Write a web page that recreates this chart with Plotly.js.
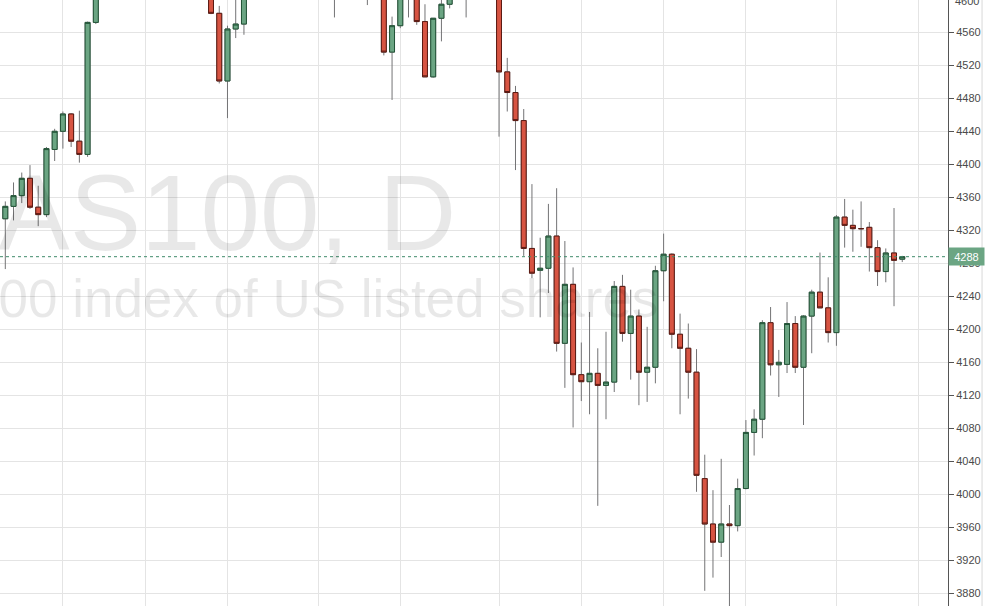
<!DOCTYPE html>
<html>
<head>
<meta charset="utf-8">
<script src="https://cdn.plot.ly/plotly-3.0.1.min.js"></script>
<style>
html,body{margin:0;padding:0;background:#fff;}
#chart{width:985px;height:606px;}
</style>
</head>
<body>
<div id="chart"></div>
<script>
// Candle positions (trading-day index); candles fully above the visible range are not listed
const dayIndex = [0,1,2,3,4,5,6,7,8,9,10,11,
  25,26,27,28,29,
  40,44,46,47,48,49,50,51,52,53,54,56,
  60,61,62,63,64,65,66,67,68,69,
  70,71,72,73,74,75,76,77,78,79,
  80,81,82,83,84,85,86,87,88,89,
  90,91,92,93,94,95,96,97,98,99,
  100,101,102,103,104,105,106,107,108,109];

const openVals = [4334,4349,4362,4383,4348,4339,4418,4440,4461,4428,4412,4572,
  4625,4583,4501,4564,4570,
  4640,4650,4640,4536,4568,4630,4620,4573,4506,4577,4594,4640,
  4620,4512,4487,4453,4298,4271.5,4274,4313,4183,4254.5,
  4145,4136.5,4146.6,4132,4136,4252,4195,4216,4148,4154,
  4271,4291,4194,4177,4148,4019,3964,3942,3964,3962,
  4007,4075,4091,4208,4157,4157.5,4207,4154,4216,4245,
  4226,4196,4336,4326,4322,4323.6,4299,4270,4292.5,4285];

const highVals = [4355,4378,4390,4399,4374,4421,4443,4464,4462,4465,4573,4640,
  4640,4592,4568,4605,4650,
  4660,4670,4650,4579,4640,4650,4630,4594,4577,4601,4630,4650,
  4630,4529,4495,4467,4376,4311,4352,4371,4307,4275,
  4184,4221,4177,4197,4258.5,4266,4248,4224,4203,4277,
  4316,4292,4219,4207,4176,4048,4005,4043,3987,4019,
  4090,4103,4211,4227,4175,4233,4216,4217,4248,4293,
  4263,4338.5,4358,4345,4355,4330,4308,4298,4347,4289];

const lowVals = [4273,4332,4353,4346,4325,4336,4404,4419,4421,4402,4409,4570,
  4582,4498,4456,4553,4557,
  4578,4593,4532,4478,4565,4578,4569,4506,4505,4549,4589,4578,
  4433.5,4464,4393,4289,4262,4214.5,4244,4173,4129,4081,
  4113,4097,3986,4091,4124,4185,4139,4108,4112,4134.5,
  4234,4177,4097,4116,4003,3883,3899,3924,3858,3955,
  4006,4047,4068,4144,4118,4147,4147,4084,4171,4226,
  4184,4180,4299,4294,4300,4270,4252.5,4257,4228,4281.5];

const closeVals = [4349,4362,4383,4348,4339,4419,4440,4461,4428,4412,4572,4630,
  4583,4501,4564,4570,4640,
  4630,4640,4536,4568,4630,4620,4573,4506,4577,4594,4620,4630,
  4512,4487,4453,4298,4268,4274,4313,4183,4254.5,4145,
  4136.5,4146.6,4132,4136,4252,4195,4216,4148,4154,4271,
  4291,4194,4177,4148,4023,3964,3942,3964,3962,4007,
  4075,4091,4208,4157,4160,4207,4154,4216,4245,4226,
  4196,4336,4326,4322,4322,4299,4270,4292.5,4283.6,4288];

// vertical grid positions (in trading-day index)
const gridDays = [7,17,27,38,48,60,70,80,90,101,111];
const topTickLabel = '4600';
const symbolText = 'NAS100, D';
const descText = 'NAS100 index of US listed shares';

const bodyHigh = openVals.map((o,i)=>Math.max(o,closeVals[i]));
const bodyLow = openVals.map((o,i)=>Math.min(o,closeVals[i]));
const lastClose = closeVals[closeVals.length-1];

const wickTrace = {
  type:'candlestick', x:dayIndex, open:openVals, high:highVals, low:lowVals, close:closeVals,
  increasing:{line:{color:'#737375',width:1}, fillcolor:'rgba(0,0,0,0)'},
  decreasing:{line:{color:'#737375',width:1}, fillcolor:'rgba(0,0,0,0)'},
  whiskerwidth:0, hoverinfo:'skip', showlegend:false
};
const bodyTrace = {
  type:'candlestick', x:dayIndex, open:openVals, high:bodyHigh, low:bodyLow, close:closeVals,
  increasing:{line:{color:'#225437',width:1}, fillcolor:'#6ba583'},
  decreasing:{line:{color:'#5b1a13',width:1}, fillcolor:'#d75442'},
  whiskerwidth:0, hoverinfo:'skip', showlegend:false
};

const tickFont = {family:'Liberation Sans, Arial, sans-serif', size:11, color:'#4a4a4a'};

const layout = {
  width:985, height:606,
  margin:{l:0,r:37,t:0,b:0,pad:0},
  paper_bgcolor:'#ffffff', plot_bgcolor:'#ffffff',
  showlegend:false,
  boxgap:0.25, boxgroupgap:0.2,
  xaxis:{
    range:[-0.644,114.56], tickvals:gridDays, showticklabels:false, ticks:'',
    showgrid:true, gridcolor:'#e4e4e4', gridwidth:1, zeroline:false, showline:false,
    rangeslider:{visible:false}, fixedrange:true
  },
  yaxis:{
    side:'right', range:[3864.6,4599.15], dtick:40, tick0:0,
    showgrid:true, gridcolor:'#e4e4e4', gridwidth:1, zeroline:false,
    showline:true, linecolor:'#555555', linewidth:1,
    ticks:'outside', ticklen:5, tickcolor:'#555555',
    tickfont:tickFont,
    fixedrange:true
  },
  shapes:[
    {type:'line', xref:'paper', yref:'y', x0:0, x1:1, y0:lastClose, y1:lastClose,
     line:{color:'#3f8a6a', width:1, dash:'dot'}, layer:'above'},
    {type:'line', xref:'paper', yref:'paper', x0:1.0359, x1:1.0359, y0:0, y1:1,
     line:{color:'#d8d8d8', width:1}}
  ],
  annotations:[
    {text:symbolText, xref:'paper', yref:'paper', x:0.4835, y:0.648, xanchor:'right', yanchor:'middle',
     showarrow:false, font:{family:'Liberation Sans, Arial, sans-serif', size:107, color:'rgba(0,0,0,0.09)'}},
    {text:descText, xref:'paper', yref:'paper', x:0.696, y:0.507, xanchor:'right', yanchor:'middle',
     showarrow:false, font:{family:'Liberation Sans, Arial, sans-serif', size:53, color:'rgba(0,0,0,0.09)'}},
    {text:topTickLabel, xref:'paper', yref:'paper', x:1, y:1, xanchor:'left', yanchor:'middle',
     xshift:5, yshift:-1, showarrow:false, font:tickFont},
    {text:String(lastClose), xref:'paper', yref:'y', x:1, y:lastClose, xanchor:'left', yanchor:'middle',
     showarrow:false, bgcolor:'#6ba583', width:33, height:15, borderpad:1, align:'center',
     font:{family:'Liberation Sans, Arial, sans-serif', size:11, color:'#ffffff'}}
  ]
};

Plotly.newPlot('chart',[wickTrace, bodyTrace],layout,{staticPlot:true, displayModeBar:false});
</script>
</body>
</html>
